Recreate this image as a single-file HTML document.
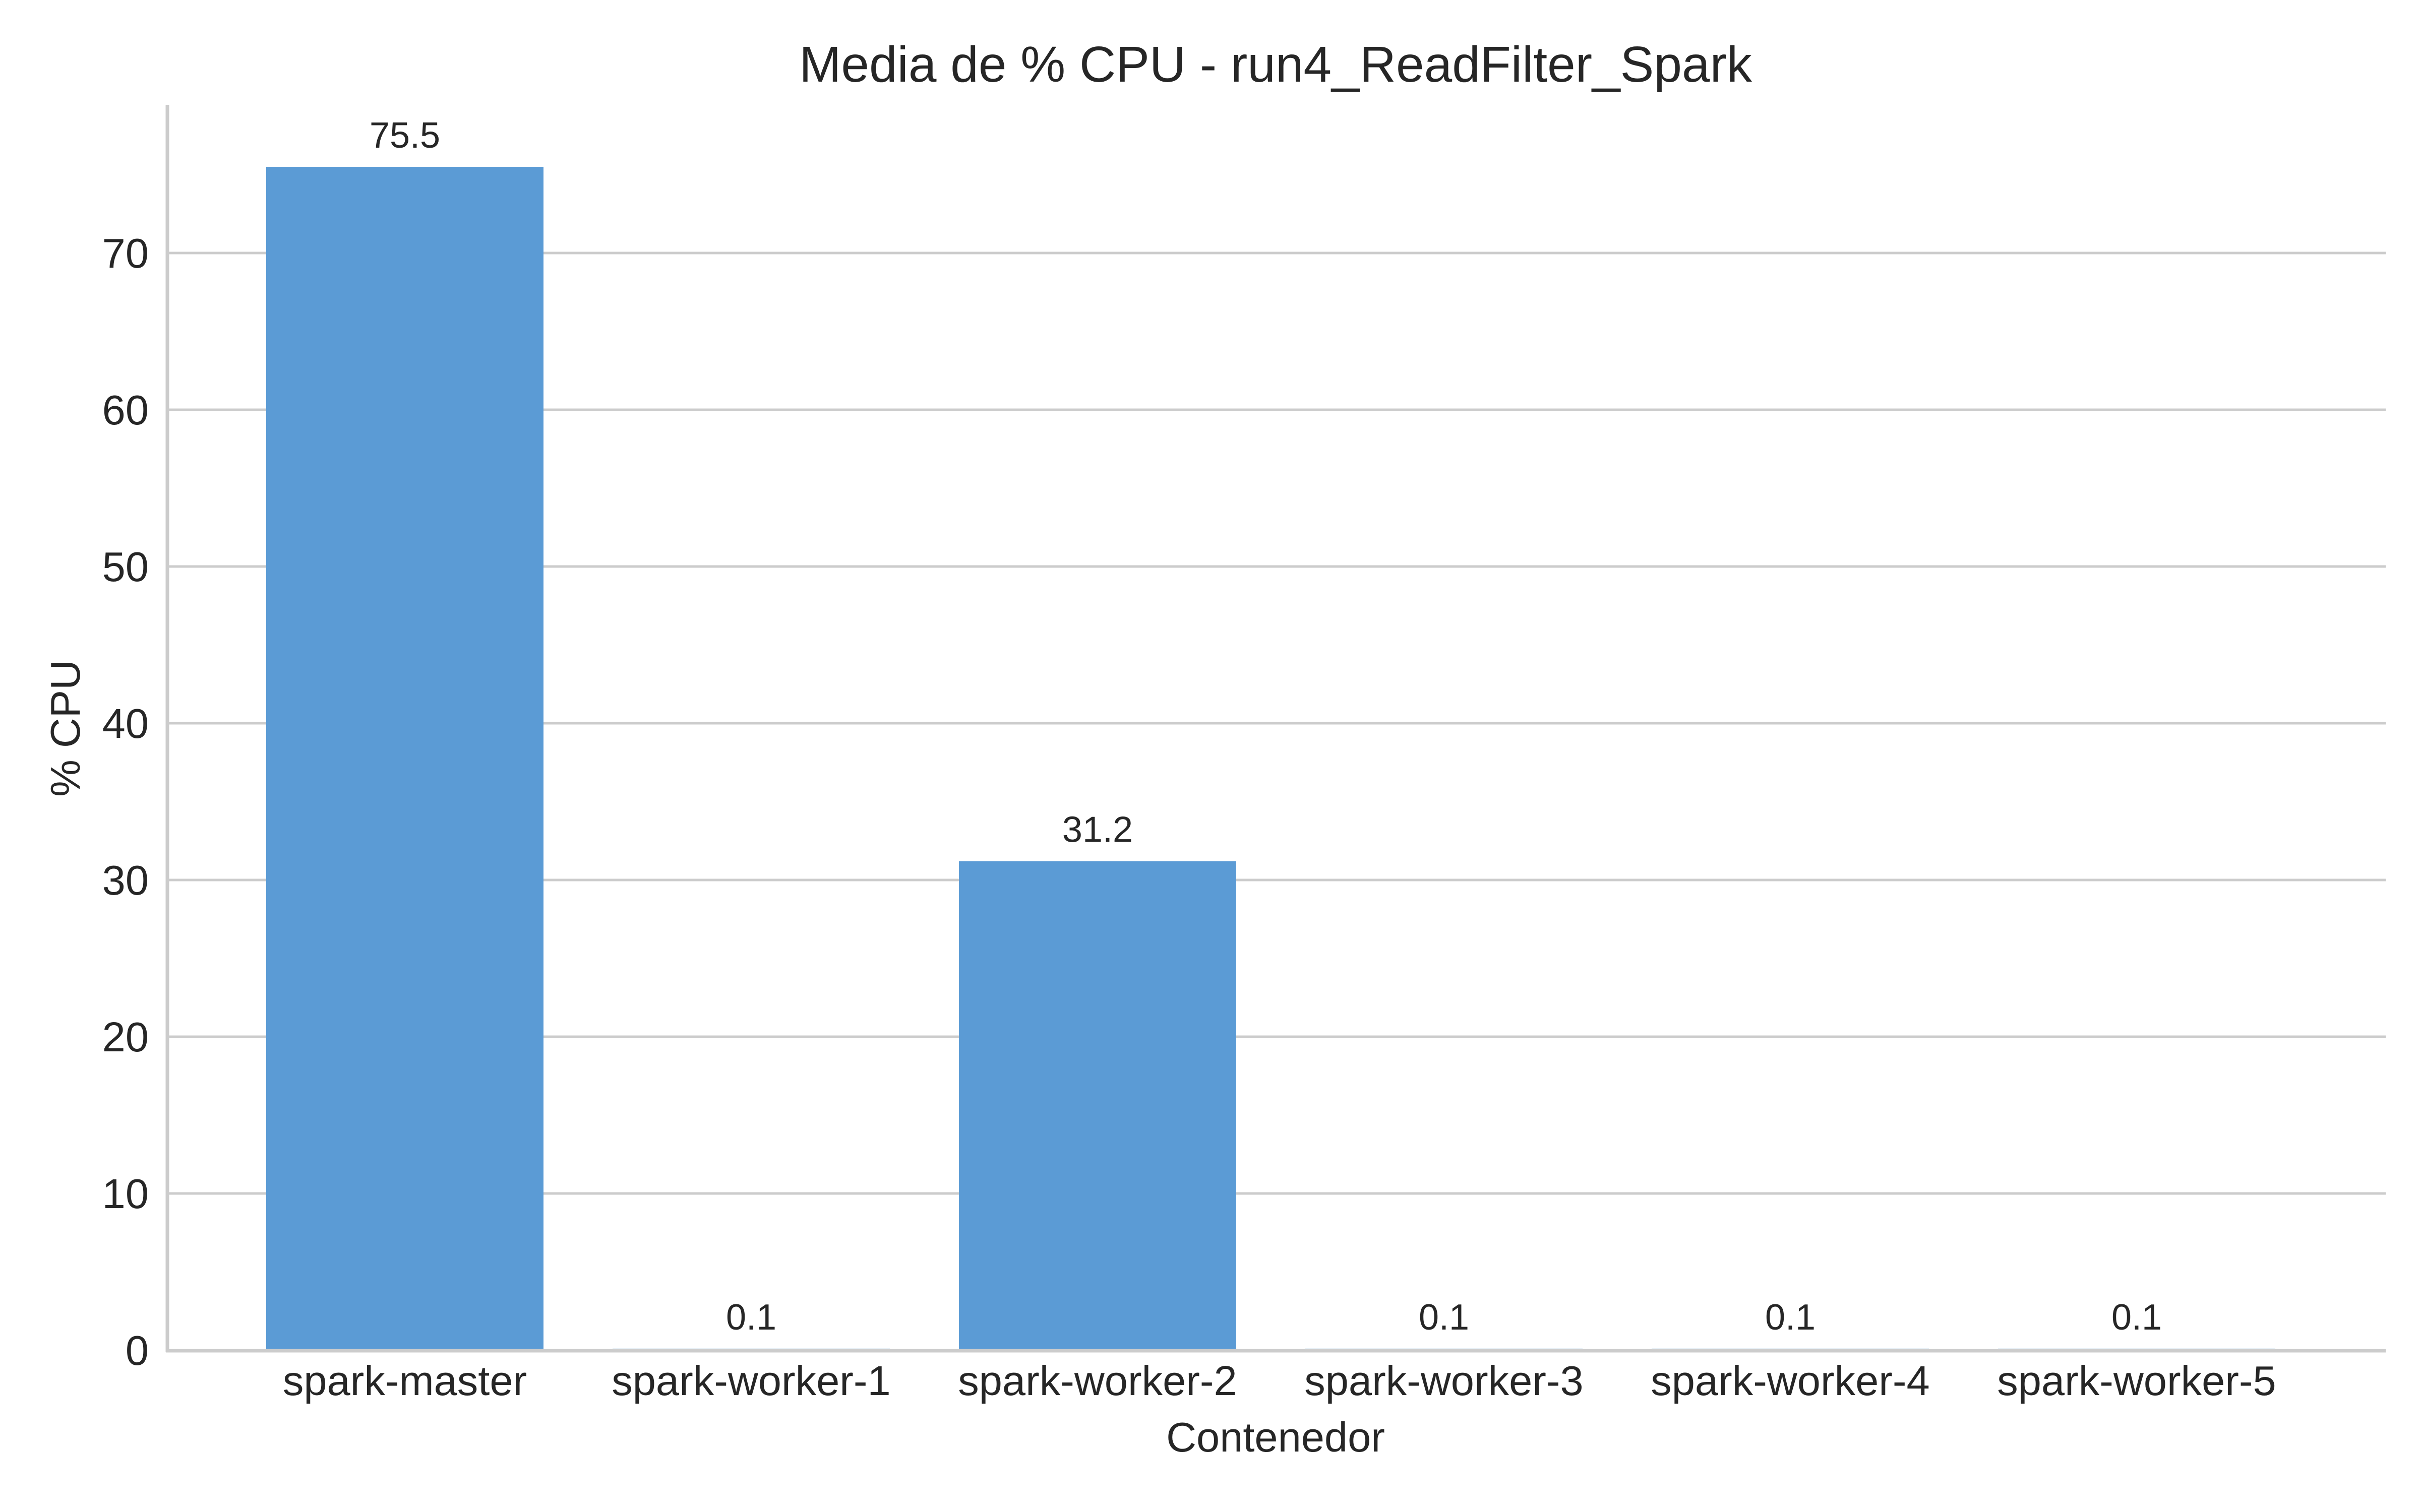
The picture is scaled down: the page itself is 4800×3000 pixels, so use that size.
<!DOCTYPE html>
<html><head><meta charset="utf-8"><style>
html,body{margin:0;padding:0;background:#fff;}
svg{display:block;font-family:"Liberation Sans",Arial,sans-serif;}
</style></head><body>
<svg id="chart" width="4800" height="3000" viewBox="0 0 4800 3000" xmlns="http://www.w3.org/2000/svg">
<rect x="0" y="0" width="4800" height="3000" fill="#ffffff"/>
<g id="grid"></g>
<g id="bars"></g>
<g id="labels"></g>
<line x1="332" y1="208" x2="332" y2="2683" stroke="#cccccc" stroke-width="7"/>
<line x1="329" y1="2680" x2="4732" y2="2680" stroke="#cccccc" stroke-width="7"/>
<g id="yticks"></g>
<g id="xticks"></g>
<text x="2530" y="162" text-anchor="middle" font-size="100" fill="#262626">Media de % CPU - run4_ReadFilter_Spark</text>
<text x="2530" y="2880" text-anchor="middle" font-size="83" fill="#262626">Contenedor</text>
<text transform="translate(158,1445) rotate(-90)" text-anchor="middle" font-size="83" fill="#262626">% CPU</text>
</svg>
<script>
const categories = ["spark-master","spark-worker-1","spark-worker-2","spark-worker-3","spark-worker-4","spark-worker-5"];
const cpuValues = [75.5, 0.1, 31.2, 0.1, 0.1, 0.1];
const valueLabels = ["75.5","0.1","31.2","0.1","0.1","0.1"];
const yTicks = [0,10,20,30,40,50,60,70];

const NS = "http://www.w3.org/2000/svg";
const y0 = 2679, pxPerUnit = 31.1;
const xLeft = 332, xRight = 4732;
const firstCenter = 803, step = 687, barW = 550;
function yScale(v){ return y0 - v * pxPerUnit; }
function xScale(i){ return firstCenter + i * step; }
function mk(tag, attrs, parent){
  const e = document.createElementNS(NS, tag);
  for (const k in attrs) e.setAttribute(k, attrs[k]);
  parent.appendChild(e);
  return e;
}
const grid = document.getElementById('grid');
const yt = document.getElementById('yticks');
yTicks.forEach(t => {
  const y = yScale(t);
  if (t > 0) {
    const l = mk('line', {x1:xLeft, x2:xRight, y1:y, y2:y, stroke:'#cccccc', 'stroke-width':5}, grid);
    
    
  }
  const tx = mk('text', {x:295, y:y+29, 'text-anchor':'end', 'font-size':83, fill:'#262626'}, yt);
  tx.textContent = String(t);
  
  
});
const bars = document.getElementById('bars');
const labels = document.getElementById('labels');
const xt = document.getElementById('xticks');
categories.forEach((c, i) => {
  const cx = xScale(i);
  const top = yScale(cpuValues[i]);
  const r = mk('rect', {x:cx - barW/2, y:top, width:barW, height:y0 - top, fill:'#5b9bd5'}, bars);
  
  
  const lb = mk('text', {x:cx, y:top - 38, 'text-anchor':'middle', 'font-size':72, fill:'#262626'}, labels);
  lb.textContent = valueLabels[i];
  
  
  const t = mk('text', {x:cx, y:2768, 'text-anchor':'middle', 'font-size':83, fill:'#262626'}, xt);
  t.textContent = c;
  
  
});
</script>
</body></html>
